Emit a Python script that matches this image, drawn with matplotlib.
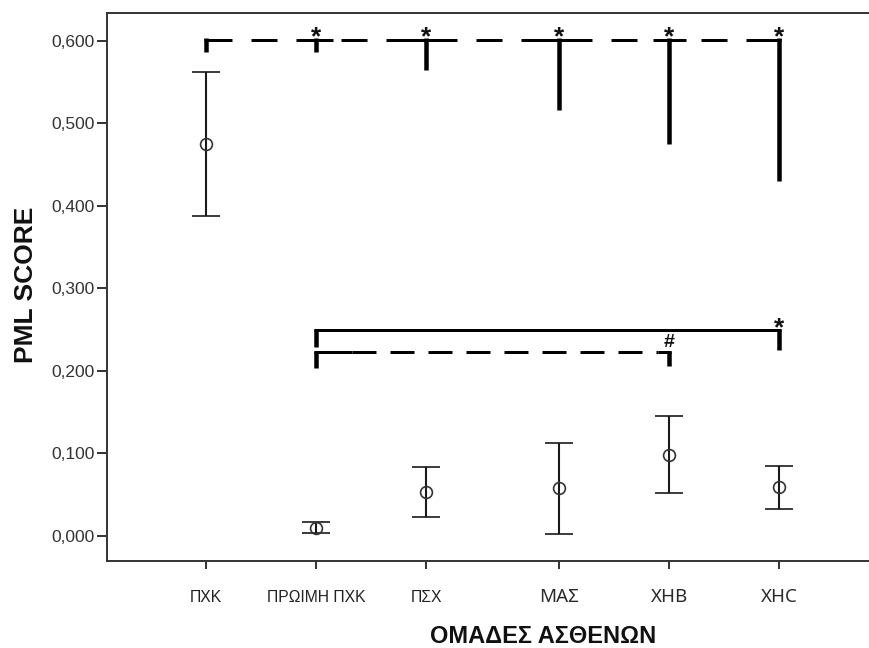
import matplotlib
matplotlib.use("Agg")
import matplotlib.pyplot as plt
import numpy as np

# ---------------- data ----------------
categories = ['ΠΧΚ', 'ΠΡΩΙΜΗ ΠΧΚ', 'ΠΣΧ', 'ΜΑΣ', 'ΧΗΒ', 'ΧΗC']
x_pos = [1.0, 2.0, 3.0, 4.21, 5.21, 6.21]
means = [0.475, 0.0097, 0.0533, 0.0574, 0.0978, 0.0594]
ci_low = [0.388, 0.003, 0.023, 0.0017, 0.052, 0.0324]
ci_high = [0.5624, 0.016, 0.0836, 0.1127, 0.145, 0.0848]

y_ticks = [0.0, 0.1, 0.2, 0.3, 0.4, 0.5, 0.6]

# significance brackets
top_bracket_y = 0.601
top_drop_to = [0.586, 0.586, 0.5645, 0.516, 0.475, 0.430]
solid_bracket_y = 0.2493
solid_pair = [1, 5]
solid_drop_to = [0.229, 0.225]
dash_bracket_y = 0.2223
dash_pair = [1, 4]
dash_drop_to = [0.2036, 0.206]

# ---------------- figure ----------------
W, H = 870, 648
fig = plt.figure(figsize=(W / 100, H / 100), dpi=100)
ax = fig.add_axes([107 / W, 1 - 561 / H, 1 - 107 / W, (561 - 13) / H])
ax.set_xlim(0.1, 7.036)
ax.set_ylim(-0.0307, 0.6336)

px = 72 / 100  # pixel -> point
dark = '#1a1a1a'

for side in ['left', 'top', 'bottom']:
    ax.spines[side].set_color('#333333')
    ax.spines[side].set_linewidth(1.4)
ax.spines['right'].set_visible(False)

means_a = np.array(means)
yerr = [means_a - np.array(ci_low), np.array(ci_high) - means_a]
ax.errorbar(x_pos, means, yerr=yerr, fmt='o', mfc='none', mec='#333333',
            ms=8.5, mew=1.2, ecolor=dark, elinewidth=1.5,
            capsize=28 * px / 2, capthick=1.8, zorder=3)

# pixel scale helpers (data units per pixel)
ux = (7.036 - 0.1) / (W - 107)
uy = (0.6336 + 0.0307) / (561 - 13)

hlw = 3 * px   # horizontal thickness
vlw = 4.5 * px  # vertical thickness


def vline(x, y0, y1):
    ax.plot([x, x], [y0 + 1.5 * uy, y1], color='k', lw=vlw,
            solid_capstyle='butt', zorder=4)


def hline(x0, x1, y, dashed=False, pattern=(8.7, 6)):
    ax.plot([x0, x1], [y, y], color='k', lw=hlw,
            ls=(0, pattern) if dashed else '-',
            solid_capstyle='butt', dash_capstyle='butt', zorder=4)


# --- top dashed bracket ---
xs = x_pos
hline(xs[0], xs[5], top_bracket_y, dashed=True, pattern=(26 / 3, 19 / 3))
hline(xs[0] - 2.25 * ux, xs[0] + 25 * ux, top_bracket_y)
for i in range(1, 5):
    hline(xs[i] - 16 * ux, xs[i] + 17 * ux, top_bracket_y)
hline(xs[5] - 32 * ux, xs[5] + 2.25 * ux, top_bracket_y)
for i in range(6):
    vline(xs[i], top_bracket_y, top_drop_to[i])

star_kw = dict(ha='center', va='baseline', fontsize=19, fontweight='bold',
               family='Liberation Sans', color='#111111', zorder=5)
for i in range(1, 6):
    ax.text(xs[i], top_bracket_y - 4 * uy, '*', **star_kw)

# --- lower solid bracket ---
a, b = solid_pair
hline(xs[a] - 2.25 * ux, xs[b] + 2.25 * ux, solid_bracket_y)
vline(xs[a], solid_bracket_y, solid_drop_to[0])
vline(xs[b], solid_bracket_y, solid_drop_to[1])
ax.text(xs[b], solid_bracket_y - 5 * uy, '*', **star_kw)

# --- lower dashed bracket ---
a, b = dash_pair
hline(xs[a] + 36 * ux, xs[b] - 11 * ux, dash_bracket_y, dashed=True,
      pattern=(24 / 3, 14 / 3))
hline(xs[a] - 2.25 * ux, xs[a] + 36 * ux, dash_bracket_y)
hline(xs[b] - 11 * ux, xs[b] + 2.25 * ux, dash_bracket_y)
vline(xs[a], dash_bracket_y, dash_drop_to[0])
vline(xs[b], dash_bracket_y, dash_drop_to[1])
ax.text(xs[b], dash_bracket_y + 5 * uy, '#', ha='center', va='baseline',
        fontsize=14, fontweight='bold', family='Liberation Sans',
        color='#111111', zorder=5)

# ---------------- ticks ----------------
ax.set_yticks(y_ticks)
ax.set_yticklabels([f"{v:.3f}".replace('.', ',') for v in y_ticks])
ax.tick_params(axis='y', direction='out', length=10 * px, width=1.4,
               color='#333333', pad=2 * px, labelsize=12.5,
               labelcolor='#333333')
for lab in ax.get_yticklabels():
    lab.set_family('Liberation Sans')

ax.set_xticks(x_pos)
ax.set_xticklabels(categories)
ax.tick_params(axis='x', direction='out', length=8 * px, width=1.4,
               color='#333333', pad=28 * px)
for i, lab in enumerate(ax.get_xticklabels()):
    lab.set_va('center')
    if i < 3:
        lab.set_family('Liberation Sans')
        lab.set_fontsize(11.3)
        lab.set_color('#222222')
    else:
        lab.set_family('Noto Sans')
        lab.set_fontsize(13.5)
        lab.set_color('#2a2a2a')

# ---------------- axis titles ----------------
fig.text(543 / W, 1 - 643 / H, 'ΟΜΑΔΕΣ ΑΣΘΕΝΩΝ', ha='center', va='baseline',
         fontsize=17, fontweight='bold', family='Liberation Sans',
         color='#111111')
fig.text(26 / W, 1 - 285 / H, 'PML SCORE', ha='center', va='center',
         rotation=90, fontsize=19, fontweight='bold',
         family='Liberation Sans', color='#111111')

fig.savefig('out.png', dpi=100, facecolor='white')
